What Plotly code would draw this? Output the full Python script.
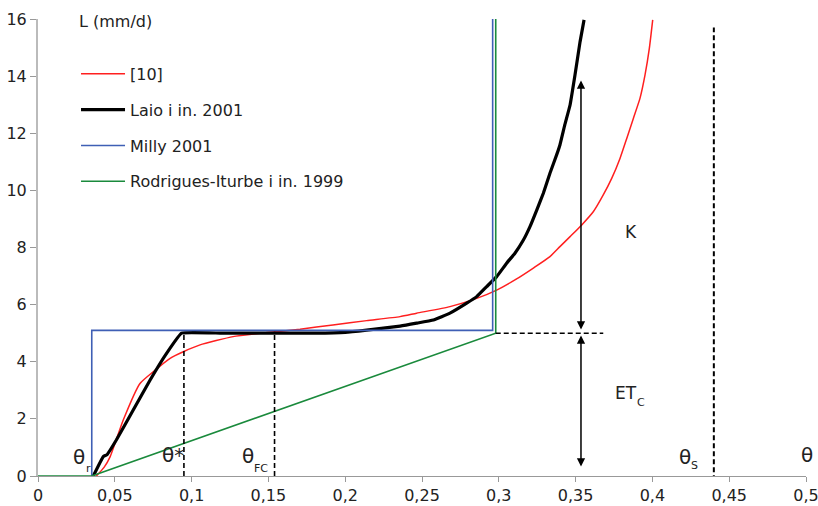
import plotly.graph_objects as go

# ---------------- data ----------------
theta_ref10 = [0.038, 0.043, 0.047, 0.0555, 0.0664, 0.075, 0.086, 0.0946, 0.1055, 0.127,
               0.149, 0.1706, 0.192, 0.214, 0.2357, 0.2465, 0.2682, 0.2856, 0.2986, 0.3116,
               0.3225, 0.3333, 0.3398, 0.3464, 0.354, 0.3615, 0.368, 0.3735, 0.3789, 0.3833,
               0.3876, 0.3919, 0.3952, 0.398, 0.4002]
L_ref10 = [0.0, 0.3, 0.68, 1.96, 3.24, 3.65, 4.12, 4.35, 4.59, 4.88,
           5.02, 5.14, 5.29, 5.44, 5.58, 5.70, 5.93, 6.22, 6.51, 6.90,
           7.28, 7.68, 8.03, 8.38, 8.79, 9.25, 9.84, 10.42, 11.12, 11.82,
           12.52, 13.22, 14.04, 14.97, 15.97]

theta_laio = [0.036, 0.0425, 0.045, 0.051, 0.062, 0.073, 0.0838, 0.0935, 0.12, 0.15,
              0.18, 0.2, 0.214, 0.2357, 0.2465, 0.2574, 0.2682, 0.2791, 0.2856, 0.2921,
              0.2986, 0.3051, 0.3105, 0.316, 0.3203, 0.3247, 0.329, 0.3333, 0.3377, 0.3398,
              0.343, 0.3464, 0.3496, 0.3529, 0.3555]
L_laio = [0.0, 0.68, 0.75, 1.26, 2.31, 3.36, 4.30, 5.0, 5.0, 5.0,
          5.0, 5.03, 5.11, 5.25, 5.35, 5.46, 5.70, 6.05, 6.28, 6.63,
          6.98, 7.45, 7.80, 8.26, 8.73, 9.31, 9.90, 10.60, 11.25, 11.59,
          12.30, 12.99, 14.04, 15.20, 15.97]

theta_milly = [0.035, 0.035, 0.296, 0.296]
L_milly = [0.0, 5.1, 5.1, 16.0]

theta_rodr = [0.0, 0.035, 0.298, 0.298]
L_rodr = [0.0, 0.0, 5.0, 16.0]

series_names = ["[10]", "Laio i in. 2001", "Milly 2001", "Rodrigues-Iturbe i in. 1999"]

x_tickvals = [0, 0.05, 0.1, 0.15, 0.2, 0.25, 0.3, 0.35, 0.4, 0.45, 0.5]
x_ticktext = ["0", "0,05", "0,1", "0,15", "0,2", "0,25", "0,3", "0,35", "0,4", "0,45", "0,5"]
y_tickvals = [0, 2, 4, 6, 8, 10, 12, 14, 16]

# characteristic levels
theta_star = 0.095
theta_fc = 0.154
theta_s = 0.44
theta_fc_top = 5.05
ETc = 5.0
K_top = 13.85
arrow_theta = 0.3535
etc_dash_end = 0.368
etc_dash_start = 0.298
arrow_bottom = 0.28

# ---------------- styling ----------------
FONT = "DejaVu Sans"
TXT = "#222222"
AX = "#999999"

fig = go.Figure()
fig.add_trace(go.Scatter(x=theta_ref10, y=L_ref10, mode="lines", name=series_names[0],
                         line=dict(color="#ff1f1f", width=1.5, shape="spline", smoothing=0.5),
                         cliponaxis=False, legendgroup="a"))
fig.add_trace(go.Scatter(x=theta_laio, y=L_laio, mode="lines", name=series_names[1],
                         line=dict(color="#000000", width=3.2, shape="spline", smoothing=0.3),
                         cliponaxis=False, legendgroup="b"))
fig.add_trace(go.Scatter(x=theta_milly, y=L_milly, mode="lines", name=series_names[2],
                         line=dict(color="#3f5fb5", width=1.6), cliponaxis=False,
                         legendgroup="c"))
fig.add_trace(go.Scatter(x=theta_rodr, y=L_rodr, mode="lines", name=series_names[3],
                         line=dict(color="#1a8a3c", width=1.6), cliponaxis=False,
                         legendgroup="d"))

dash = dict(color="#000000", width=1.6, dash="5px,3px")
shapes = [
    dict(type="line", xref="x", yref="y", x0=theta_star, x1=theta_star, y0=0, y1=ETc, line=dash),
    dict(type="line", xref="x", yref="y", x0=theta_fc, x1=theta_fc, y0=0, y1=theta_fc_top, line=dash),
    dict(type="line", xref="x", yref="y", x0=theta_s, x1=theta_s, y0=-0.15, y1=15.7,
         line=dict(color="#000000", width=2, dash="5px,3px")),
    dict(type="line", xref="x", yref="y", x0=etc_dash_start, x1=etc_dash_end, y0=ETc, y1=ETc, line=dash),
]

annotations = []


def label(x, y, text, size):
    annotations.append(dict(x=x, y=y, xref="x", yref="y", text=text, showarrow=False,
                            xanchor="left", yanchor="middle",
                            font=dict(family=FONT, size=size, color=TXT)))


label(0.0254, 15.93, "L (mm/d)", 16)
label(0.0215, 0.68, "θ", 20)
label(0.030, 0.28, "r", 11)
label(0.0794, 0.74, "θ*", 20)
label(0.1315, 0.70, "θ", 20)
label(0.1393, 0.28, "FC", 11)
label(0.416, 0.67, "θ", 20)
label(0.4238, 0.385, "S", 11)
label(0.4954, 0.74, "θ", 20)
label(0.381, 8.54, "K", 17)
label(0.3743, 2.9, "ET", 17)
label(0.3887, 2.59, "C", 11)

arrow = dict(xref="x", yref="y", axref="x", ayref="y", text="", showarrow=True,
             arrowside="end+start", arrowhead=2, arrowsize=1.1, arrowwidth=1.5,
             arrowcolor="#000000", standoff=0, startstandoff=0)
annotations.append(dict(arrow, x=arrow_theta, y=K_top, ax=arrow_theta, ay=ETc + 0.08))
annotations.append(dict(arrow, x=arrow_theta, y=ETc - 0.08, ax=arrow_theta, ay=arrow_bottom))

fig.update_layout(
    width=818, height=506,
    margin=dict(l=38, r=12, t=19, b=30, autoexpand=False),
    paper_bgcolor="white", plot_bgcolor="white",
    font=dict(family=FONT, size=16, color=TXT),
    showlegend=True,
    legend=dict(x=0.0495, y=0.917, xanchor="left", yanchor="top",
                traceorder="grouped", tracegroupgap=12,
                bgcolor="rgba(0,0,0,0)", font=dict(family=FONT, size=16, color=TXT),
                itemwidth=44),
    shapes=shapes,
    annotations=annotations,
    xaxis=dict(range=[0, 0.5], tickvals=x_tickvals, ticktext=x_ticktext, automargin=False,
               ticklabeloverflow="allow",
               showgrid=False, zeroline=False, showline=True, linecolor=AX, linewidth=1,
               ticks="outside", ticklen=5, tickcolor=AX, tickwidth=1,
               tickfont=dict(family=FONT, size=16, color=TXT)),
    yaxis=dict(range=[0, 16], tickvals=y_tickvals, automargin=False,
               ticklabeloverflow="allow",
               showgrid=False, zeroline=False, showline=True, linecolor="#bbbbbb", linewidth=2,
               ticks="outside", ticklen=6, tickcolor=AX, tickwidth=1,
               tickfont=dict(family=FONT, size=16, color=TXT)),
)

# remove the browser's default 8px page margin so the 818x506 figure fills the window
fig.write_html("out.html",
               config={"displayModeBar": False},
               post_script="document.body.style.margin='0';document.body.style.overflow='hidden';")
